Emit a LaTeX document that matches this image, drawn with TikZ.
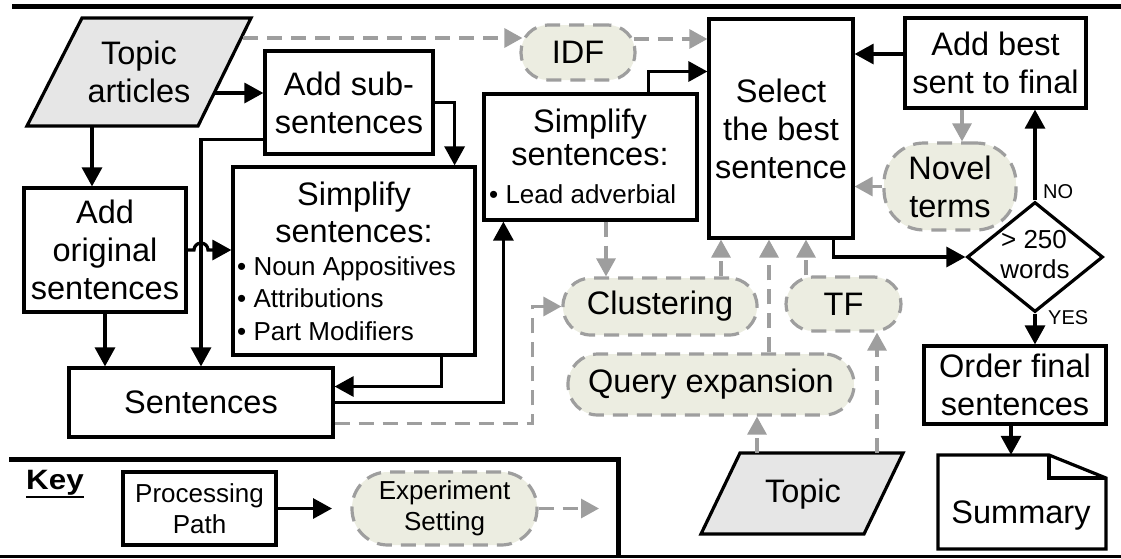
\documentclass[tikz,border=0pt]{standalone}
\usepackage{fontspec}
\setmainfont{Liberation Sans}
\usetikzlibrary{arrows.meta,shapes.geometric,calc}
\definecolor{dgray}{RGB}{158,158,158}
\definecolor{expfill}{RGB}{236,237,225}
\definecolor{parfill}{RGB}{230,230,230}
\newcommand\fmain{\fontsize{32.5}{38}\selectfont}
\newcommand\fbul{\fontsize{26}{31}\selectfont}
\newcommand\fdia{\fontsize{26}{30}\selectfont}
\newcommand\flab{\fontsize{20}{24}\selectfont}
\tikzset{
  box/.style={draw, line width=3.2pt, fill=white, inner sep=0pt},
  expn/.style={draw=dgray, fill=expfill, line width=3.2pt, dash pattern=on 15pt off 9pt, inner sep=0pt, font=\fmain, align=center},
  conn/.style={line width=3.2pt, -{Triangle[length=19pt,width=20pt]}},
  gconn/.style={draw=dgray, line width=3.2pt, dash pattern=on 15pt off 9pt, -{Triangle[length=18pt,width=19pt,fill=dgray]}},
  txt/.style={inner sep=0pt, font=\fmain, align=center},
}
\begin{document}
\begin{tikzpicture}[x=1pt,y=-1pt]
\useasboundingbox (0,0) rectangle (1121,558);

% frame rules
\draw[line width=5pt] (12,6) -- (1121,6);
\draw[line width=5pt] (9,459) -- (618,459) -- (618,558);
\draw[line width=3pt] (0,556) -- (1121,556);

% Topic articles
\draw[line width=3.2pt, fill=parfill] (82,18) -- (251,18) -- (198,126) -- (27,126) -- cycle;
\node[txt] (ta) at (139,72) {Topic\\articles};
\coordinate (ta-r) at (214,93);
\coordinate (ta-b) at (92,126);
\coordinate (ta-t) at (243,38);

% boxes
\node[box, txt, minimum width=168pt, minimum height=103pt] (addsub) at (349,102.5) {Add sub-\\sentences};
\node[box, txt, minimum width=162pt, minimum height=124pt] (addorig) at (105,250) {Add\\original\\sentences};
\node[box, minimum width=242pt, minimum height=188pt] (simp) at (354,261) {};
\node[txt, anchor=base] (simp-1) at (354,205) {Simplify};
\node[txt, anchor=base] (simp-2) at (354,242) {sentences:};
\node[txt, font=\fbul, anchor=base west] (simp-3) at (237,275) {• Noun Appositives};
\node[txt, font=\fbul, anchor=base west] (simp-4) at (237,307) {• Attributions};
\node[txt, font=\fbul, anchor=base west] (simp-5) at (237,340) {• Part Modifiers};

\node[box, minimum width=213pt, minimum height=126pt] (lead) at (590.5,157) {};
\node[txt, anchor=base] (lead-1) at (590,132) {Simplify};
\node[txt, anchor=base] (lead-2) at (590,165) {sentences:};
\node[txt, font=\fbul, anchor=base west] (lead-3) at (489,203) {• Lead adverbial};

\node[box, txt, minimum width=264pt, minimum height=69pt] (sent) at (201,402.5) {Sentences};
\node[box, txt, minimum width=144pt, minimum height=219pt] (select) at (781,128.5) {Select\\the best\\sentence};
\node[box, txt, minimum width=181pt, minimum height=90pt] (addbest) at (995.5,63) {Add best\\sent to final};
\node[box, txt, minimum width=182pt, minimum height=78pt] (order) at (1015,385) {Order final\\sentences};

% diamond
\node[draw, diamond, line width=3.2pt, fill=white, inner sep=0pt, minimum width=136pt, minimum height=110pt] (dia) at (1035,257) {};
\node[txt, font=\fdia, anchor=base] (dia-1) at (1034,248) {> 250};
\node[txt, font=\fdia, anchor=base] (dia-2) at (1035,278) {words};
\node[txt, font=\flab, anchor=base west] (no) at (1043,198) {NO};
\node[txt, font=\flab, anchor=base west] (yes) at (1048,324) {YES};

% summary document
\draw[line width=3.2pt, fill=white, line join=miter] (938,455) -- (1049,455) -- (1106,478) -- (1106,549) -- (938,549) -- cycle;
\draw[line width=3.2pt] (1049,455) -- (1049,478) -- (1106,478);
\node[inner sep=0pt, minimum width=168pt, minimum height=94pt] (summ) at (1022,502) {};
\node[txt, anchor=base] (summ-t) at (1021,523) {Summary};

% Topic
\draw[line width=3.2pt, fill=parfill] (740,453) -- (903,453) -- (864,534) -- (701,534) -- cycle;
\node[txt, anchor=base] (topic) at (803,502) {Topic};
\coordinate (topic-a) at (757,453);
\coordinate (topic-b) at (877,453);

% experiment settings
\node[expn, rounded corners=27pt, minimum width=114pt, minimum height=55pt] (idf) at (578,52.5) {IDF};
\node[expn, rounded corners=40pt, minimum width=132pt, minimum height=87pt] (novel) at (950,186.5) {Novel\\terms};
\node[expn, rounded corners=28pt, minimum width=194pt, minimum height=57pt] (clust) at (660,306.5) {Clustering};
\node[expn, rounded corners=27pt, minimum width=115pt, minimum height=54pt] (tf) at (843.5,304) {TF};
\node[expn, rounded corners=30pt, minimum width=286pt, minimum height=61pt] (qe) at (711,384.5) {Query expansion};

% black connectors
\draw[conn] (ta-r) -- (ta-r -| addsub.west);
\draw[conn] (ta-b) -- (ta-b |- addorig.north);
\draw[conn] (addsub.east) -| ([xshift=-22pt]simp.north east);
\draw[conn] ([yshift=16pt]addsub.south west) -| (sent.north);
\coordinate (hop) at ($(sent.north |- addorig.east)+(-7,0)$);
\draw[conn] (addorig.east) -- (hop) arc[start angle=180, end angle=0, radius=7pt] -- (addorig.east -| simp.west);
\draw[conn] (addorig.south) -- (addorig.south |- sent.north);
\draw[conn] ([xshift=-35pt]simp.south east) |- ([yshift=16pt]sent.east);
\draw[conn] (sent.east) -| ([xshift=21pt]lead.south west);
\draw[conn] ([xshift=166pt]lead.north west) |- ([yshift=57pt]select.west);
\coordinate (ab-l) at ([yshift=9pt]addbest.west);
\draw[conn] (ab-l) -- (ab-l -| select.east);
\draw[conn] ([xshift=-21pt]select.south east) |- (dia.west);
\draw[conn] (dia.north) -- (dia.north |- addbest.south);
\draw[conn] (dia.south) -- (dia.south |- order.north);
\coordinate (ord-b) at ([xshift=-4pt]order.south);
\draw[conn] (ord-b) -- (ord-b |- summ.north);

% gray dashed connectors
\coordinate (idf-l) at ([xshift=3pt]ta-t -| idf.west);
\draw[gconn] (ta-t) -- (idf-l);
\coordinate (idf-r) at ([yshift=13.5pt,xshift=-3pt]idf.east);
\draw[gconn] (idf-r) -- (idf-r -| select.west);
\coordinate (ab-b) at ([xshift=-33.5pt]addbest.south);
\draw[gconn] (ab-b) -- (ab-b |- novel.north);
\draw[gconn] (novel.west) -- (novel.west -| select.east);
\coordinate (ld-b) at ([xshift=15.5pt]lead.south);
\draw[gconn] (ld-b) -- (ld-b |- clust.north);
\coordinate (cl-t) at ([xshift=61pt]clust.north);
\draw[gconn] (cl-t) -- (cl-t |- select.south);
\coordinate (qe-t) at ([xshift=58pt]qe.north);
\draw[gconn] (qe-t) -- (qe-t |- select.south);
\coordinate (tf-t) at ([xshift=-37.5pt]tf.north);
\draw[gconn] (tf-t) -- (tf-t |- select.south);
\draw[gconn] (topic-a) -- (topic-a |- qe.south);
\draw[gconn] (topic-b) -- (topic-b |- tf.south);
\coordinate (se-r) at ([yshift=-21pt]sent.east);
\draw[gconn] (se-r) -| ([xshift=-29pt]clust.west) -- (clust.west);

% key
\node[inner sep=0pt, anchor=base, font=\fontsize{28}{32}\selectfont\bfseries] (key) at (55,489) {\scalebox{1.12}[1]{Key}};
\draw[line width=2.6pt] ([yshift=-2pt]key.south west) -- ([yshift=-2pt]key.south east);
\node[box, txt, font=\fbul, minimum width=153pt, minimum height=73pt] (pp) at (199.5,508.5) {Processing\\Path};
\node[expn, font=\fbul, rounded corners=36pt, minimum width=185pt, minimum height=73pt] (es) at (444.5,508.5) {Experiment\\Setting};
\coordinate (kc1) at (332,508.5);
\coordinate (kc2) at (599,508.5);
\draw[conn] (pp.east) -- (kc1);
\draw[gconn] (es.east) -- (kc2);
\end{tikzpicture}
\end{document}
